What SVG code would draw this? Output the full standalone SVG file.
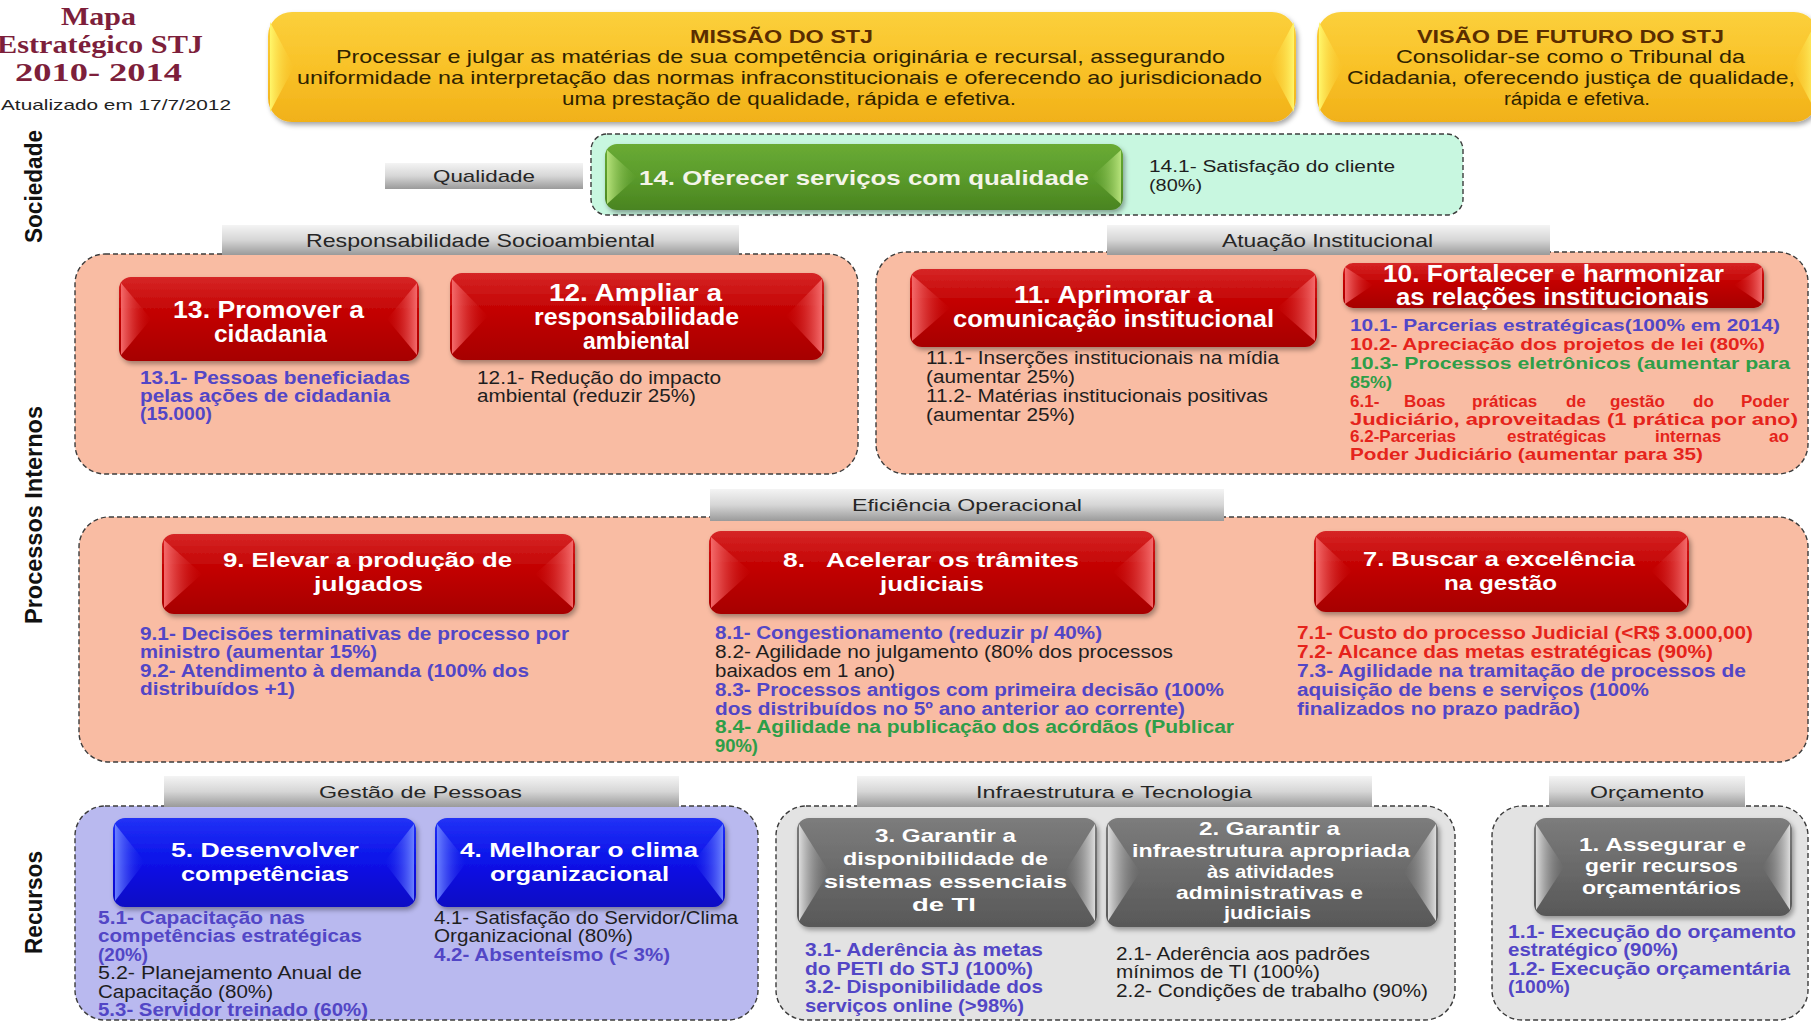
<svg xmlns="http://www.w3.org/2000/svg" width="1811" height="1023" viewBox="0 0 1811 1023">
<style>
text{font-family:"Liberation Sans",Arial,Helvetica,sans-serif}
.ttl{font-family:"Liberation Serif","Times New Roman",serif;font-weight:bold;font-size:25px;fill:#7d1f3b}
.upd{font-size:15px;fill:#222}
.side{font-size:23px;font-weight:bold;fill:#111}
.mt{font-size:18px;font-weight:bold;fill:#5a2d00}
.ml{font-size:19px;fill:#2e2200}
.bar{font-size:17px;fill:#262626}
.nbar{font-size:18.5px;fill:#262626}
.btn{font-size:21px;font-weight:bold;fill:#fff}
.nbtn{font-size:23px;font-weight:bold;fill:#fff}
.gbtn{font-size:19px;font-weight:bold;fill:#fff}
.i{font-size:17.5px}
.n{font-size:17.5px}
.n10{font-size:17px}
.b{font-weight:bold}
.blu{fill:#5246c6}
.red{fill:#e5231b}
.grn{fill:#2e9e48}
.blk{fill:#1e1e1e}
.reg{stroke:#3c3c3c;stroke-width:1.4;stroke-dasharray:5 3}
.pink{fill:#f9bca3}
.mint{fill:#c8f7e0}
.lav{fill:#b9b9ef}
.lgr{fill:#e3e3e3}
.barr{fill:url(#barG)}
</style>
<defs>
<filter id="sh" x="-10%" y="-15%" width="125%" height="140%"><feDropShadow dx="2" dy="3" stdDeviation="2.5" flood-color="#000" flood-opacity="0.35"/></filter>
<linearGradient id="barG" x1="0" y1="0" x2="0" y2="1"><stop offset="0" stop-color="#f4f4f4"/><stop offset="0.5" stop-color="#d6d6d6"/><stop offset="1" stop-color="#9a9a9a"/></linearGradient>
<linearGradient id="redG" x1="0" y1="0" x2="0" y2="1"><stop offset="0" stop-color="#d62626"/><stop offset="0.45" stop-color="#c20000"/><stop offset="1" stop-color="#a60000"/></linearGradient>
<linearGradient id="grnG" x1="0" y1="0" x2="0" y2="1"><stop offset="0" stop-color="#6aab34"/><stop offset="0.5" stop-color="#5a9b2b"/><stop offset="1" stop-color="#4a8420"/></linearGradient>
<linearGradient id="bluG" x1="0" y1="0" x2="0" y2="1"><stop offset="0" stop-color="#2232f6"/><stop offset="0.5" stop-color="#0a12e8"/><stop offset="1" stop-color="#0808c4"/></linearGradient>
<linearGradient id="gryG" x1="0" y1="0" x2="0" y2="1"><stop offset="0" stop-color="#7c7c7c"/><stop offset="0.5" stop-color="#6a6a6a"/><stop offset="1" stop-color="#585858"/></linearGradient>
<linearGradient id="gldG" x1="0" y1="0" x2="0" y2="1"><stop offset="0" stop-color="#fbd03c"/><stop offset="0.5" stop-color="#f9c228"/><stop offset="1" stop-color="#f1b119"/></linearGradient>
<linearGradient id="redL" x1="0" y1="0" x2="1" y2="0"><stop offset="0" stop-color="#f46a6a"/><stop offset="1" stop-color="#c40000" stop-opacity="0.2"/></linearGradient>
<linearGradient id="redR" x1="1" y1="0" x2="0" y2="0"><stop offset="0" stop-color="#f46a6a"/><stop offset="1" stop-color="#c40000" stop-opacity="0.2"/></linearGradient>
<linearGradient id="grnL" x1="0" y1="0" x2="1" y2="0"><stop offset="0" stop-color="#b6e27a"/><stop offset="1" stop-color="#5a9b2b" stop-opacity="0.2"/></linearGradient>
<linearGradient id="grnR" x1="1" y1="0" x2="0" y2="0"><stop offset="0" stop-color="#b6e27a"/><stop offset="1" stop-color="#5a9b2b" stop-opacity="0.2"/></linearGradient>
<linearGradient id="bluL" x1="0" y1="0" x2="1" y2="0"><stop offset="0" stop-color="#6a80ff"/><stop offset="1" stop-color="#0a12e8" stop-opacity="0.2"/></linearGradient>
<linearGradient id="bluR" x1="1" y1="0" x2="0" y2="0"><stop offset="0" stop-color="#6a80ff"/><stop offset="1" stop-color="#0a12e8" stop-opacity="0.2"/></linearGradient>
<linearGradient id="gryL" x1="0" y1="0" x2="1" y2="0"><stop offset="0" stop-color="#dcdcdc"/><stop offset="1" stop-color="#6a6a6a" stop-opacity="0.2"/></linearGradient>
<linearGradient id="gryR" x1="1" y1="0" x2="0" y2="0"><stop offset="0" stop-color="#dcdcdc"/><stop offset="1" stop-color="#6a6a6a" stop-opacity="0.2"/></linearGradient>
<linearGradient id="gldL" x1="0" y1="0" x2="1" y2="0"><stop offset="0" stop-color="#fff66a"/><stop offset="1" stop-color="#f9c228" stop-opacity="0.2"/></linearGradient>
<linearGradient id="gldR" x1="1" y1="0" x2="0" y2="0"><stop offset="0" stop-color="#fff66a"/><stop offset="1" stop-color="#f9c228" stop-opacity="0.2"/></linearGradient>
</defs>
<rect width="1811" height="1023" fill="#fff"/>

<g id="title">
<text class="ttl" x="61" y="25" textLength="75" lengthAdjust="spacingAndGlyphs">Mapa</text>
<text class="ttl" x="-3" y="53" textLength="206" lengthAdjust="spacingAndGlyphs">Estratégico STJ</text>
<text class="ttl" x="15" y="81" textLength="167" lengthAdjust="spacingAndGlyphs">2010- 2014</text>
<text class="upd" x="1" y="110" textLength="230" lengthAdjust="spacingAndGlyphs">Atualizado em  17/7/2012</text>
</g>

<g id="perspectives">
<text class="side" transform="translate(42,243) rotate(-90)" textLength="113" lengthAdjust="spacingAndGlyphs">Sociedade</text>
<text class="side" transform="translate(42,624) rotate(-90)" textLength="218" lengthAdjust="spacingAndGlyphs">Processos Internos</text>
<text class="side" transform="translate(42,954) rotate(-90)" textLength="103" lengthAdjust="spacingAndGlyphs">Recursos</text>
</g>

<g id="regions">
<rect class="reg mint" x="591" y="134" width="872" height="81" rx="16"/>
<rect class="reg pink" x="75" y="254" width="783" height="220" rx="30"/>
<rect class="reg pink" x="876" y="252" width="932" height="222" rx="30"/>
<rect class="reg pink" x="79" y="517" width="1729" height="245" rx="30"/>
<rect class="reg lav" x="75" y="806" width="683" height="214" rx="30"/>
<rect class="reg lgr" x="776" y="806" width="679" height="214" rx="30"/>
<rect class="reg lgr" x="1492" y="806" width="316" height="214" rx="30"/>
</g>

<g id="themes">
<g id="theme-qualidade"><rect class="barr" x="385" y="163" width="198" height="26"/><text class="bar" x="433" y="182" textLength="102" lengthAdjust="spacingAndGlyphs">Qualidade</text></g>
<g id="theme-socioambiental"><rect class="barr" x="222" y="225" width="517" height="30"/><text class="nbar" x="306" y="247" textLength="349" lengthAdjust="spacingAndGlyphs">Responsabilidade  Socioambiental</text></g>
<g id="theme-atuacao"><rect class="barr" x="1107" y="225" width="443" height="30"/><text class="nbar" x="1222" y="247" textLength="211" lengthAdjust="spacingAndGlyphs">Atuação Institucional</text></g>
<g id="theme-eficiencia"><rect class="barr" x="710" y="489" width="514" height="32"/><text class="bar" x="852" y="511" textLength="230" lengthAdjust="spacingAndGlyphs">Eficiência Operacional</text></g>
<g id="theme-pessoas"><rect class="barr" x="164" y="776" width="515" height="31"/><text class="bar" x="319" y="798" textLength="203" lengthAdjust="spacingAndGlyphs">Gestão de Pessoas</text></g>
<g id="theme-infra"><rect class="barr" x="857" y="776" width="515" height="31"/><text class="bar" x="976" y="798" textLength="276" lengthAdjust="spacingAndGlyphs">Infraestrutura  e Tecnologia</text></g>
<g id="theme-orcamento"><rect class="barr" x="1549" y="776" width="196" height="31"/><text class="bar" x="1590" y="798" textLength="114" lengthAdjust="spacingAndGlyphs">Orçamento</text></g>
</g>

<g id="missao">
<rect x="268" y="12" width="1028" height="110" rx="24" fill="url(#gldG)" filter="url(#sh)"/>
<polygon points="270,22 294,67 270,112" fill="url(#gldL)"/>
<polygon points="1294,22 1270,67 1294,112" fill="url(#gldR)"/>
<text class="mt" x="690" y="43" textLength="183" lengthAdjust="spacingAndGlyphs">MISSÃO DO STJ</text>
<text class="ml" x="336" y="63" textLength="889" lengthAdjust="spacingAndGlyphs">Processar e julgar as matérias de sua competência originária e recursal, assegurando</text>
<text class="ml" x="297" y="84" textLength="965" lengthAdjust="spacingAndGlyphs">uniformidade na interpretação das normas infraconstitucionais e oferecendo ao jurisdicionado</text>
<text class="ml" x="562" y="105" textLength="454" lengthAdjust="spacingAndGlyphs">uma prestação de qualidade, rápida e efetiva.</text>
</g>

<g id="visao">
<rect x="1317" y="12" width="501" height="110" rx="24" fill="url(#gldG)" filter="url(#sh)"/>
<polygon points="1319,22 1343,67 1319,112" fill="url(#gldL)"/>
<polygon points="1816,22 1792,67 1816,112" fill="url(#gldR)"/>
<text class="mt" x="1417" y="43" textLength="307" lengthAdjust="spacingAndGlyphs">VISÃO  DE FUTURO DO STJ</text>
<text class="ml" x="1396" y="63" textLength="349" lengthAdjust="spacingAndGlyphs">Consolidar-se como o Tribunal da</text>
<text class="ml" x="1347" y="84" textLength="448" lengthAdjust="spacingAndGlyphs">Cidadania, oferecendo justiça de qualidade,</text>
<text class="ml" x="1504" y="105" textLength="146" lengthAdjust="spacingAndGlyphs">rápida e efetiva.</text>
</g>

<g id="obj14">
<rect x="605" y="144" width="518" height="66" rx="12" fill="url(#grnG)" filter="url(#sh)"/>
<polygon points="607,150 637,177 607,204" fill="url(#grnL)"/>
<polygon points="1121,150 1091,177 1121,204" fill="url(#grnR)"/>
<text class="btn" x="639" y="185" textLength="450" lengthAdjust="spacingAndGlyphs" style="fill:#f4f4e8">14.  Oferecer serviços com qualidade</text>
<text class="blk" x="1149" y="172" textLength="246" lengthAdjust="spacingAndGlyphs" style="font-size:16px">14.1- Satisfação  do  cliente</text>
<text class="blk" x="1149" y="191" textLength="53" lengthAdjust="spacingAndGlyphs" style="font-size:16px">(80%)</text>
</g>

<g id="obj13">
<rect x="119" y="277" width="300" height="84" rx="12" fill="url(#redG)" filter="url(#sh)"/>
<polygon points="121,283 151,319 121,355" fill="url(#redL)"/>
<polygon points="417,283 387,319 417,355" fill="url(#redR)"/>
<text class="nbtn" x="173" y="318" textLength="191" lengthAdjust="spacingAndGlyphs">13.  Promover a</text>
<text class="nbtn" x="214" y="342" textLength="113" lengthAdjust="spacingAndGlyphs">cidadania</text>
<text class="n b blu" x="140" y="384" textLength="270" lengthAdjust="spacingAndGlyphs">13.1- Pessoas  beneficiadas</text>
<text class="n b blu" x="140" y="402" textLength="250" lengthAdjust="spacingAndGlyphs">pelas ações de cidadania</text>
<text class="n b blu" x="140" y="420" textLength="72" lengthAdjust="spacingAndGlyphs">(15.000)</text>
</g>

<g id="obj12">
<rect x="450" y="273" width="374" height="87" rx="12" fill="url(#redG)" filter="url(#sh)"/>
<polygon points="452,279 488,316 452,354" fill="url(#redL)"/>
<polygon points="822,279 786,316 822,354" fill="url(#redR)"/>
<text class="nbtn" x="549" y="301" textLength="173" lengthAdjust="spacingAndGlyphs">12.  Ampliar  a</text>
<text class="nbtn" x="534" y="325" textLength="205" lengthAdjust="spacingAndGlyphs">responsabilidade</text>
<text class="nbtn" x="583" y="349" textLength="107" lengthAdjust="spacingAndGlyphs">ambiental</text>
<text class="n blk" x="477" y="384" textLength="244" lengthAdjust="spacingAndGlyphs">12.1- Redução  do  impacto</text>
<text class="n blk" x="477" y="402" textLength="219" lengthAdjust="spacingAndGlyphs">ambiental  (reduzir  25%)</text>
</g>

<g id="obj11">
<rect x="910" y="269" width="407" height="78" rx="12" fill="url(#redG)" filter="url(#sh)"/>
<polygon points="912,275 950,308 912,341" fill="url(#redL)"/>
<polygon points="1315,275 1277,308 1315,341" fill="url(#redR)"/>
<text class="nbtn" x="1014" y="303" textLength="199" lengthAdjust="spacingAndGlyphs">11.  Aprimorar a</text>
<text class="nbtn" x="953" y="327" textLength="321" lengthAdjust="spacingAndGlyphs">comunicação  institucional</text>
<text class="n blk" x="926" y="364" textLength="353" lengthAdjust="spacingAndGlyphs">11.1- Inserções  institucionais na mídia</text>
<text class="n blk" x="926" y="383" textLength="149" lengthAdjust="spacingAndGlyphs">(aumentar  25%)</text>
<text class="n blk" x="926" y="402" textLength="342" lengthAdjust="spacingAndGlyphs">11.2- Matérias  institucionais  positivas</text>
<text class="n blk" x="926" y="421" textLength="149" lengthAdjust="spacingAndGlyphs">(aumentar  25%)</text>
</g>

<g id="obj10">
<rect x="1343" y="263" width="421" height="45" rx="10" fill="url(#redG)" filter="url(#sh)"/>
<polygon points="1345,267 1373,285 1345,304" fill="url(#redL)"/>
<polygon points="1762,267 1734,285 1762,304" fill="url(#redR)"/>
<text class="nbtn" x="1383" y="282" textLength="341" lengthAdjust="spacingAndGlyphs">10.  Fortalecer e harmonizar</text>
<text class="nbtn" x="1396" y="305" textLength="313" lengthAdjust="spacingAndGlyphs">as relações institucionais</text>
<text class="n10 b blu" x="1350" y="331" textLength="430" lengthAdjust="spacingAndGlyphs">10.1- Parcerias estratégicas(100%  em 2014)</text>
<text class="n10 b red" x="1350" y="350" textLength="415" lengthAdjust="spacingAndGlyphs">10.2- Apreciação dos projetos de lei (80%)</text>
<text class="n10 b grn" x="1350" y="369" textLength="440" lengthAdjust="spacingAndGlyphs">10.3- Processos eletrônicos (aumentar para</text>
<text class="n10 b grn" x="1350" y="388" textLength="42" lengthAdjust="spacingAndGlyphs">85%)</text>
<text class="n10 b red" y="407"><tspan x="1350">6.1-</tspan><tspan x="1404">Boas</tspan><tspan x="1472">práticas</tspan><tspan x="1566">de</tspan><tspan x="1610">gestão</tspan><tspan x="1693">do</tspan><tspan x="1741">Poder</tspan></text>
<text class="n10 b red" x="1350" y="425" textLength="448" lengthAdjust="spacingAndGlyphs">Judiciário, aproveitadas (1 prática por ano)</text>
<text class="n10 b red" y="442"><tspan x="1350">6.2-Parcerias</tspan><tspan x="1507">estratégicas</tspan><tspan x="1655">internas</tspan><tspan x="1769">ao</tspan></text>
<text class="n10 b red" x="1350" y="460" textLength="353" lengthAdjust="spacingAndGlyphs">Poder  Judiciário (aumentar para 35)</text>
</g>

<g id="obj9">
<rect x="162" y="534" width="413" height="80" rx="12" fill="url(#redG)" filter="url(#sh)"/>
<polygon points="164,540 202,574 164,608" fill="url(#redL)"/>
<polygon points="573,540 535,574 573,608" fill="url(#redR)"/>
<text class="btn" x="223" y="567" textLength="289" lengthAdjust="spacingAndGlyphs">9. Elevar a produção de</text>
<text class="btn" x="314" y="591" textLength="109" lengthAdjust="spacingAndGlyphs">julgados</text>
<text class="i b blu" x="140" y="640" textLength="429" lengthAdjust="spacingAndGlyphs">9.1- Decisões  terminativas de processo  por</text>
<text class="i b blu" x="140" y="658" textLength="237" lengthAdjust="spacingAndGlyphs">ministro (aumentar 15%)</text>
<text class="i b blu" x="140" y="677" textLength="389" lengthAdjust="spacingAndGlyphs">9.2- Atendimento à demanda (100%  dos</text>
<text class="i b blu" x="140" y="695" textLength="155" lengthAdjust="spacingAndGlyphs">distribuídos  +1)</text>
</g>

<g id="obj8">
<rect x="709" y="531" width="446" height="83" rx="12" fill="url(#redG)" filter="url(#sh)"/>
<polygon points="711,537 751,572 711,608" fill="url(#redL)"/>
<polygon points="1153,537 1113,572 1153,608" fill="url(#redR)"/>
<text class="btn" x="783" y="567" textLength="296" lengthAdjust="spacingAndGlyphs">8.&#160;&#160; Acelerar os trâmites</text>
<text class="btn" x="880" y="591" textLength="104" lengthAdjust="spacingAndGlyphs">judiciais</text>
<text class="i b blu" x="715" y="639" textLength="387" lengthAdjust="spacingAndGlyphs">8.1- Congestionamento (reduzir p/ 40%)</text>
<text class="i blk" x="715" y="658" textLength="458" lengthAdjust="spacingAndGlyphs">8.2- Agilidade no julgamento (80% dos processos</text>
<text class="i blk" x="715" y="677" textLength="180" lengthAdjust="spacingAndGlyphs">baixados em 1 ano)</text>
<text class="i b blu" x="715" y="696" textLength="509" lengthAdjust="spacingAndGlyphs">8.3- Processos  antigos com primeira decisão (100%</text>
<text class="i b blu" x="715" y="715" textLength="470" lengthAdjust="spacingAndGlyphs">dos distribuídos  no 5º ano anterior ao corrente)</text>
<text class="i b grn" x="715" y="733" textLength="519" lengthAdjust="spacingAndGlyphs">8.4- Agilidade na publicação dos acórdãos (Publicar</text>
<text class="i b grn" x="715" y="752" textLength="43" lengthAdjust="spacingAndGlyphs">90%)</text>
</g>

<g id="obj7">
<rect x="1314" y="531" width="375" height="81" rx="12" fill="url(#redG)" filter="url(#sh)"/>
<polygon points="1316,537 1352,571 1316,606" fill="url(#redL)"/>
<polygon points="1687,537 1651,571 1687,606" fill="url(#redR)"/>
<text class="btn" x="1363" y="566" textLength="272" lengthAdjust="spacingAndGlyphs">7. Buscar a excelência</text>
<text class="btn" x="1444" y="590" textLength="113" lengthAdjust="spacingAndGlyphs">na gestão</text>
<text class="i b red" x="1297" y="639" textLength="456" lengthAdjust="spacingAndGlyphs">7.1- Custo  do processo  Judicial (&lt;R$ 3.000,00)</text>
<text class="i b red" x="1297" y="658" textLength="416" lengthAdjust="spacingAndGlyphs">7.2- Alcance das metas estratégicas  (90%)</text>
<text class="i b blu" x="1297" y="677" textLength="449" lengthAdjust="spacingAndGlyphs">7.3- Agilidade na tramitação de processos  de</text>
<text class="i b blu" x="1297" y="696" textLength="352" lengthAdjust="spacingAndGlyphs">aquisição de bens e serviços  (100%</text>
<text class="i b blu" x="1297" y="715" textLength="283" lengthAdjust="spacingAndGlyphs">finalizados no prazo padrão)</text>
</g>

<g id="obj5">
<rect x="113" y="818" width="303" height="89" rx="12" fill="url(#bluG)" filter="url(#sh)"/>
<polygon points="115,824 145,862 115,901" fill="url(#bluL)"/>
<polygon points="414,824 384,862 414,901" fill="url(#bluR)"/>
<text class="btn" x="171" y="857" textLength="188" lengthAdjust="spacingAndGlyphs">5.  Desenvolver</text>
<text class="btn" x="181" y="881" textLength="168" lengthAdjust="spacingAndGlyphs">competências</text>
<text class="i b blu" x="98" y="924" textLength="207" lengthAdjust="spacingAndGlyphs">5.1- Capacitação nas</text>
<text class="i b blu" x="98" y="942" textLength="264" lengthAdjust="spacingAndGlyphs">competências estratégicas</text>
<text class="i b blu" x="98" y="961" textLength="50" lengthAdjust="spacingAndGlyphs">(20%)</text>
<text class="i blk" x="98" y="979" textLength="264" lengthAdjust="spacingAndGlyphs">5.2- Planejamento Anual  de</text>
<text class="i blk" x="98" y="998" textLength="175" lengthAdjust="spacingAndGlyphs">Capacitação (80%)</text>
<text class="i b blu" x="98" y="1016" textLength="270" lengthAdjust="spacingAndGlyphs">5.3- Servidor treinado (60%)</text>
</g>

<g id="obj4">
<rect x="435" y="818" width="290" height="89" rx="12" fill="url(#bluG)" filter="url(#sh)"/>
<polygon points="437,824 467,862 437,901" fill="url(#bluL)"/>
<polygon points="723,824 693,862 723,901" fill="url(#bluR)"/>
<text class="btn" x="460" y="857" textLength="238" lengthAdjust="spacingAndGlyphs">4.  Melhorar o clima</text>
<text class="btn" x="490" y="881" textLength="179" lengthAdjust="spacingAndGlyphs">organizacional</text>
<text class="i blk" x="434" y="924" textLength="304" lengthAdjust="spacingAndGlyphs">4.1- Satisfação do Servidor/Clima</text>
<text class="i blk" x="434" y="942" textLength="199" lengthAdjust="spacingAndGlyphs">Organizacional  (80%)</text>
<text class="i b blu" x="434" y="961" textLength="236" lengthAdjust="spacingAndGlyphs">4.2- Absenteísmo  (&lt; 3%)</text>
</g>

<g id="obj3">
<rect x="797" y="818" width="300" height="109" rx="12" fill="url(#gryG)" filter="url(#sh)"/>
<polygon points="799,824 829,872 799,921" fill="url(#gryL)"/>
<polygon points="1095,824 1065,872 1095,921" fill="url(#gryR)"/>
<text class="gbtn" x="875" y="842" textLength="141" lengthAdjust="spacingAndGlyphs">3.  Garantir a</text>
<text class="gbtn" x="843" y="865" textLength="205" lengthAdjust="spacingAndGlyphs">disponibilidade  de</text>
<text class="gbtn" x="824" y="888" textLength="243" lengthAdjust="spacingAndGlyphs">sistemas essenciais</text>
<text class="gbtn" x="912" y="911" textLength="64" lengthAdjust="spacingAndGlyphs">de  TI</text>
<text class="i b blu" x="805" y="956" textLength="238" lengthAdjust="spacingAndGlyphs">3.1- Aderência às metas</text>
<text class="i b blu" x="805" y="975" textLength="228" lengthAdjust="spacingAndGlyphs">do PETI  do STJ (100%)</text>
<text class="i b blu" x="805" y="993" textLength="238" lengthAdjust="spacingAndGlyphs">3.2- Disponibilidade dos</text>
<text class="i b blu" x="805" y="1012" textLength="219" lengthAdjust="spacingAndGlyphs">serviços  online (&gt;98%)</text>
</g>

<g id="obj2">
<rect x="1106" y="818" width="332" height="109" rx="12" fill="url(#gryG)" filter="url(#sh)"/>
<polygon points="1108,824 1140,872 1108,921" fill="url(#gryL)"/>
<polygon points="1436,824 1404,872 1436,921" fill="url(#gryR)"/>
<text class="gbtn" x="1199" y="835" textLength="141" lengthAdjust="spacingAndGlyphs">2.  Garantir a</text>
<text class="gbtn" x="1132" y="857" textLength="278" lengthAdjust="spacingAndGlyphs">infraestrutura apropriada</text>
<text class="gbtn" x="1207" y="878" textLength="127" lengthAdjust="spacingAndGlyphs">às atividades</text>
<text class="gbtn" x="1176" y="899" textLength="187" lengthAdjust="spacingAndGlyphs">administrativas  e</text>
<text class="gbtn" x="1224" y="919" textLength="87" lengthAdjust="spacingAndGlyphs">judiciais</text>
<text class="i blk" x="1116" y="960" textLength="254" lengthAdjust="spacingAndGlyphs">2.1- Aderência aos padrões</text>
<text class="i blk" x="1116" y="978" textLength="204" lengthAdjust="spacingAndGlyphs">mínimos de TI (100%)</text>
<text class="i blk" x="1116" y="997" textLength="312" lengthAdjust="spacingAndGlyphs">2.2- Condições  de trabalho  (90%)</text>
</g>

<g id="obj1">
<rect x="1534" y="818" width="258" height="98" rx="12" fill="url(#gryG)" filter="url(#sh)"/>
<polygon points="1536,824 1564,867 1536,910" fill="url(#gryL)"/>
<polygon points="1790,824 1762,867 1790,910" fill="url(#gryR)"/>
<text class="gbtn" x="1579" y="851" textLength="167" lengthAdjust="spacingAndGlyphs">1.  Assegurar e</text>
<text class="gbtn" x="1585" y="872" textLength="153" lengthAdjust="spacingAndGlyphs">gerir recursos</text>
<text class="gbtn" x="1582" y="894" textLength="159" lengthAdjust="spacingAndGlyphs">orçamentários</text>
<text class="i b blu" x="1508" y="938" textLength="288" lengthAdjust="spacingAndGlyphs">1.1- Execução do orçamento</text>
<text class="i b blu" x="1508" y="956" textLength="170" lengthAdjust="spacingAndGlyphs">estratégico (90%)</text>
<text class="i b blu" x="1508" y="975" textLength="282" lengthAdjust="spacingAndGlyphs">1.2- Execução orçamentária</text>
<text class="i b blu" x="1508" y="993" textLength="62" lengthAdjust="spacingAndGlyphs">(100%)</text>
</g>

<g id="connectors"/>
</svg>
